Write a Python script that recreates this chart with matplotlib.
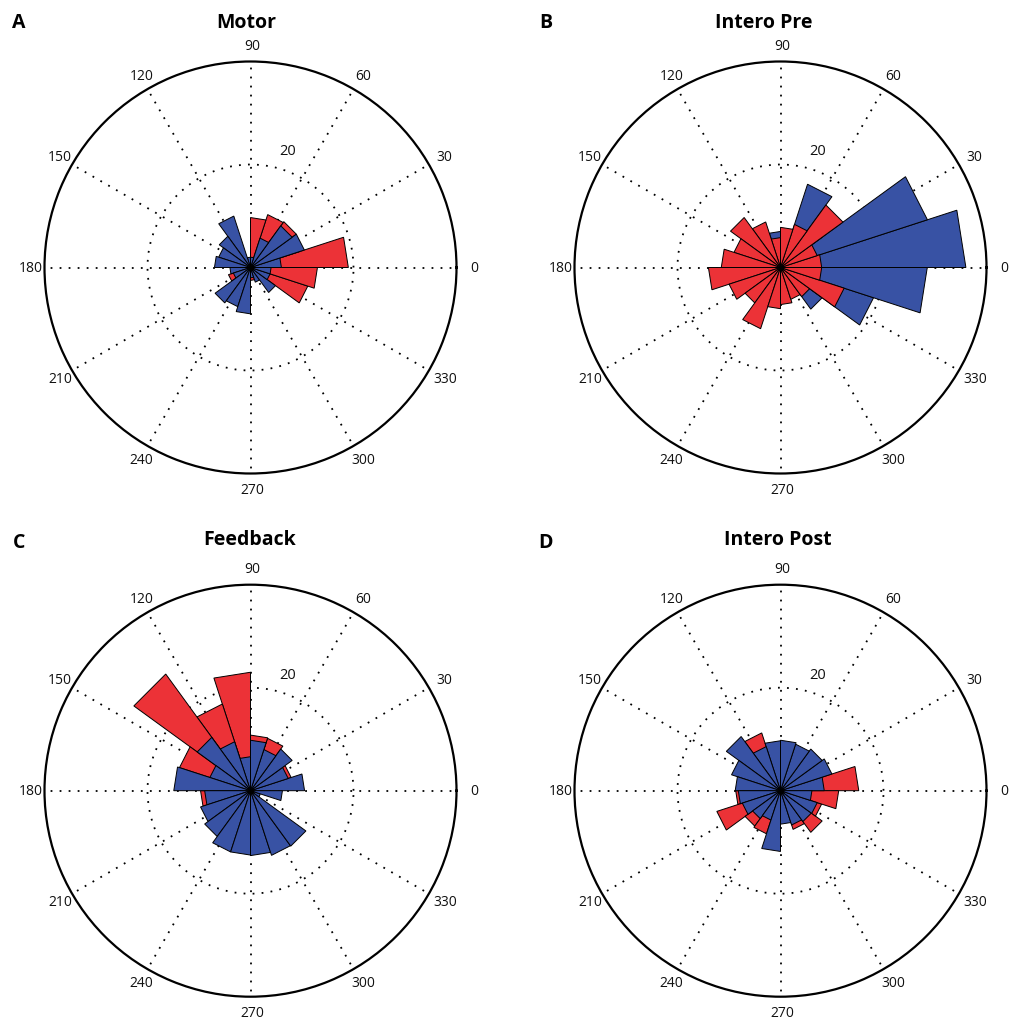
import numpy as np
import matplotlib.pyplot as plt

plt.rcParams['font.family'] = ['Open Sans', 'DejaVu Sans']

# 20 bins of 18 degrees, first bin is 0-18
bin_edges = np.arange(0, 361, 18)

motor_red = [19, 10, 11, 10.8, 9.7, 0, 0, 0, 0, 0, 2, 4.5, 0, 0, 0, 2.5, 2, 3, 11.7, 13]
motor_blue = [6, 11, 10, 6, 2, 2, 10.5, 7.5, 6.5, 7, 4, 3.5, 8.5, 8, 9, 2, 3, 6, 4, 4]

pre_red = [8, 7.5, 15, 8.8, 7.8, 5.8, 9.3, 12, 9.5, 11.5, 14, 10.5, 8.5, 12.5, 8, 7.2, 6.5, 7, 13, 8]
pre_blue = [36, 30, 10, 17, 5, 7, 5, 5, 5, 5, 5, 5, 5, 5, 5, 5, 5, 10, 19, 28.5]

feedback_red = [0, 8.3, 0, 10.7, 10.8, 23, 17.7, 28, 14.5, 0, 9.7, 0, 0, 0, 0, 0, 0, 0, 0, 0]
feedback_blue = [10.5, 7.7, 10, 8.4, 9.8, 6.6, 10, 12.8, 8.3, 14.9, 8.9, 10.2, 11, 12.5, 12.5, 12.6, 13.2, 13.3, 2, 6.2]

post_red = [15.2, 0, 0, 0, 0, 0, 11.8, 0, 0, 0, 8.7, 13, 8.5, 8.8, 0, 0, 7.9, 10, 8.4, 11.3]
post_blue = [8.5, 10.5, 10, 9.5, 9.8, 9.7, 9, 13, 10, 8.8, 8.2, 7.8, 6.7, 6, 11.8, 6.5, 7, 7.4, 7.5, 6.1]

titles = ['Motor', 'Intero Pre', 'Feedback', 'Intero Post']
letters = ['A', 'B', 'C', 'D']
angle_labels = np.arange(0, 360, 30)

RED = '#EC3237'
BLUE = '#3852A4'

W, H = 1009, 1027
R = 206  # outer circle radius in px (= 40 counts)


def rose(ax, values, color):
    for i, v in enumerate(values):
        if v <= 0:
            continue
        th = np.deg2rad([bin_edges[i], bin_edges[i], bin_edges[i + 1]])
        ax.fill(th, [0, v, v], facecolor=color, edgecolor='k', linewidth=0.7)


def panel(cx, cy, red, blue, red_first):
    ax = fig.add_axes([(cx - R) / W, 1 - (cy + R) / H, 2 * R / W, 2 * R / H],
                      projection='polar')
    ax.set_axisbelow(True)
    if red_first:
        rose(ax, red, RED)
        rose(ax, blue, BLUE)
    else:
        rose(ax, blue, BLUE)
        rose(ax, red, RED)
    ax.set_ylim(0, 40)
    ax.set_thetagrids(angle_labels, labels=[''] * len(angle_labels))
    ax.set_rgrids([20], labels=[''])
    ax.grid(True, color='k', linestyle=(0, (1, 4)), linewidth=1.3)
    ax.spines['polar'].set_color('k')
    ax.spines['polar'].set_linewidth(1.6)
    ax.tick_params(length=0)
    ax.plot([0], [0], 'ko', markersize=3)

    for a in angle_labels:
        t = np.deg2rad(a)
        ax.text(0.5 + 222 / (2 * R) * np.cos(t) + 2 / (2 * R),
                0.5 + 222 / (2 * R) * np.sin(t) - 1 / (2 * R),
                str(a), transform=ax.transAxes, ha='center', va='center',
                fontsize=10, color='#111111')
    ax.text(np.deg2rad(72), 23.6, '20', ha='center', va='center',
            fontsize=10.5, color='#111111')
    return ax


fig = plt.figure(figsize=(W / 100, H / 100), dpi=100)

panel(250.5, 267.5, motor_red, motor_blue, True)
panel(780.5, 267.5, pre_red, pre_blue, False)
panel(250.5, 790.7, feedback_red, feedback_blue, True)
panel(780.5, 790.7, post_red, post_blue, True)

title_pos = [(246, 28.5), (764, 28.5), (250, 545), (778, 545)]
letter_pos = [(19, 28.5), (546, 28.5), (19, 548), (546, 548)]
for (tx, ty), (lx, ly), t, l in zip(title_pos, letter_pos, titles, letters):
    fig.text(tx / W, 1 - ty / H, t, ha='center', va='baseline',
             fontsize=14, fontweight='bold')
    fig.text(lx / W, 1 - ly / H, l, ha='center', va='baseline',
             fontsize=14, fontweight='bold')

fig.savefig('out.png', dpi=100, facecolor='white')
